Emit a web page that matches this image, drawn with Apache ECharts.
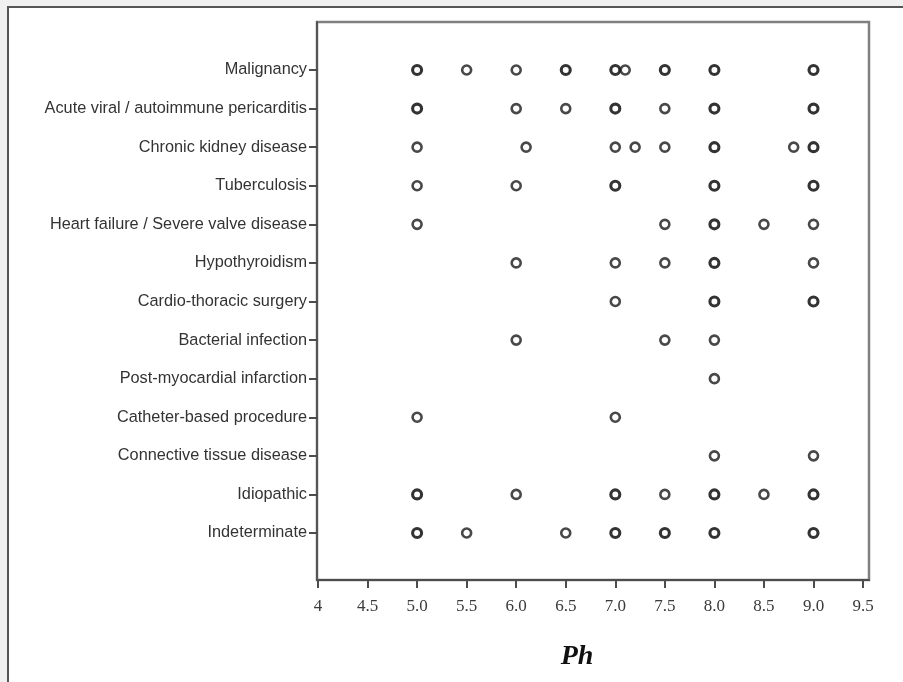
<!DOCTYPE html>
<html>
<head>
<meta charset="utf-8">
<script src="https://cdn.jsdelivr.net/npm/echarts@6/dist/echarts.min.js"></script>
<style>
  html, body { margin: 0; padding: 0; background: #f0f0f0; overflow: hidden; }
  #panel { position: absolute; left: 7px; top: 6px; width: 1000px; height: 1000px;
           background: #fff; border-left: 2px solid #555; border-top: 2px solid #555; }
  #chart { position: absolute; left: 0; top: 0; width: 903px; height: 682px; }
</style>
</head>
<body>
<div id="panel"></div>
<div id="chart"></div>
<script>
// Aetiology of pericardial effusion, listed top to bottom
const causes = [
  'Malignancy',
  'Acute viral / autoimmune pericarditis',
  'Chronic kidney disease',
  'Tuberculosis',
  'Heart failure / Severe valve disease',
  'Hypothyroidism',
  'Cardio-thoracic surgery',
  'Bacterial infection',
  'Post-myocardial infarction',
  'Catheter-based procedure',
  'Connective tissue disease',
  'Idiopathic',
  'Indeterminate'
];

// pH values per cause (repeated values are overlapping cases)
const malignancy     = [5.0, 5.0, 5.5, 6.0, 6.5, 6.5, 7.0, 7.0, 7.1, 7.5, 7.5, 8.0, 8.0, 9.0, 9.0];
const acuteViral     = [5.0, 5.0, 6.0, 6.5, 7.0, 7.0, 7.5, 8.0, 8.0, 9.0, 9.0];
const chronicKidney  = [5.0, 6.1, 7.0, 7.2, 7.5, 8.0, 8.0, 8.8, 9.0, 9.0];
const tuberculosis   = [5.0, 6.0, 7.0, 7.0, 8.0, 8.0, 9.0, 9.0];
const heartFailure   = [5.0, 7.5, 8.0, 8.0, 8.5, 9.0];
const hypothyroidism = [6.0, 7.0, 7.5, 8.0, 8.0, 9.0];
const cardioThoracic = [7.0, 8.0, 8.0, 9.0, 9.0];
const bacterial      = [6.0, 7.5, 8.0];
const postMI         = [8.0];
const catheter       = [5.0, 7.0];
const connective     = [8.0, 9.0];
const idiopathic     = [5.0, 5.0, 6.0, 7.0, 7.0, 7.5, 8.0, 8.0, 8.5, 9.0, 9.0];
const indeterminate  = [5.0, 5.0, 5.5, 6.5, 7.0, 7.0, 7.5, 7.5, 8.0, 8.0, 9.0, 9.0];

const phByCause = [malignancy, acuteViral, chronicKidney, tuberculosis, heartFailure,
  hypothyroidism, cardioThoracic, bacterial, postMI, catheter, connective, idiopathic, indeterminate];

// x-axis ticks
const xTickValues = [4, 4.5, 5, 5.5, 6, 6.5, 7, 7.5, 8, 8.5, 9, 9.5];
const xTickLabels = ['4', '4.5', '5.0', '5.5', '6.0', '6.5', '7.0', '7.5', '8.0', '8.5', '9.0', '9.5'];

// one hollow circle per distinct value; stacked cases get a heavier ring
const points = [];
phByCause.forEach((vals, row) => {
  const counts = new Map();
  vals.forEach(v => counts.set(v, (counts.get(v) || 0) + 1));
  counts.forEach((n, v) => {
    points.push({
      value: [v, row],
      itemStyle: { borderWidth: n > 1 ? 3.1 : 2.6, borderColor: n > 1 ? '#000' : '#1a1a1a' }
    });
  });
});

const chart = echarts.init(document.getElementById('chart'), null, { renderer: 'canvas' });
chart.setOption({
  animation: false,
  grid: [
    { left: 318, top: 50.7, width: 551, height: 501.6, show: false },
    { left: 317, top: 22, width: 552, height: 558, show: true,
      borderColor: '#808080', borderWidth: 2.5, backgroundColor: 'transparent' }
  ],
  xAxis: [
    {
      gridIndex: 0, type: 'value', min: 4, max: 9.56, position: 'bottom', offset: 27.7,
      axisLine: { show: true, onZero: false, lineStyle: { color: '#4d4d4d', width: 2 } },
      axisTick: { show: true, length: 8, customValues: xTickValues,
                  lineStyle: { color: '#4d4d4d', width: 2 } },
      axisLabel: {
        customValues: xTickValues,
        formatter: v => xTickLabels[xTickValues.indexOf(v)],
        margin: 18, fontFamily: 'Liberation Serif', fontSize: 17, color: '#3a3a3a'
      },
      splitLine: { show: false }
    },
    { gridIndex: 1, type: 'value', min: 0, max: 1, show: false }
  ],
  yAxis: [
    {
      gridIndex: 0, type: 'category', data: causes, inverse: true, boundaryGap: true,
      axisLine: { show: false },
      axisTick: { show: true, alignWithLabel: true, length: 9,
                  lineStyle: { color: '#4d4d4d', width: 2 } },
      axisLabel: { interval: 0, margin: 11, fontFamily: 'Liberation Sans', fontSize: 16.3, color: '#333' },
      splitLine: { show: false }
    },
    {
      gridIndex: 1, type: 'value', min: 0, max: 1,
      axisLine: { show: true, onZero: false, lineStyle: { color: '#555', width: 2 } },
      axisTick: { show: false }, axisLabel: { show: false }, splitLine: { show: false }
    }
  ],
  graphic: [{
    type: 'text', x: 577, y: 657,
    style: { text: 'Ph', textAlign: 'center', textVerticalAlign: 'middle',
             font: 'italic bold 28px "Liberation Serif"', fill: '#111' }
  }],
  series: [{
    type: 'scatter', xAxisIndex: 0, yAxisIndex: 0,
    symbol: 'circle', symbolSize: 9,
    itemStyle: { color: '#fff' },
    data: points
  }]
});
</script>
</body>
</html>
